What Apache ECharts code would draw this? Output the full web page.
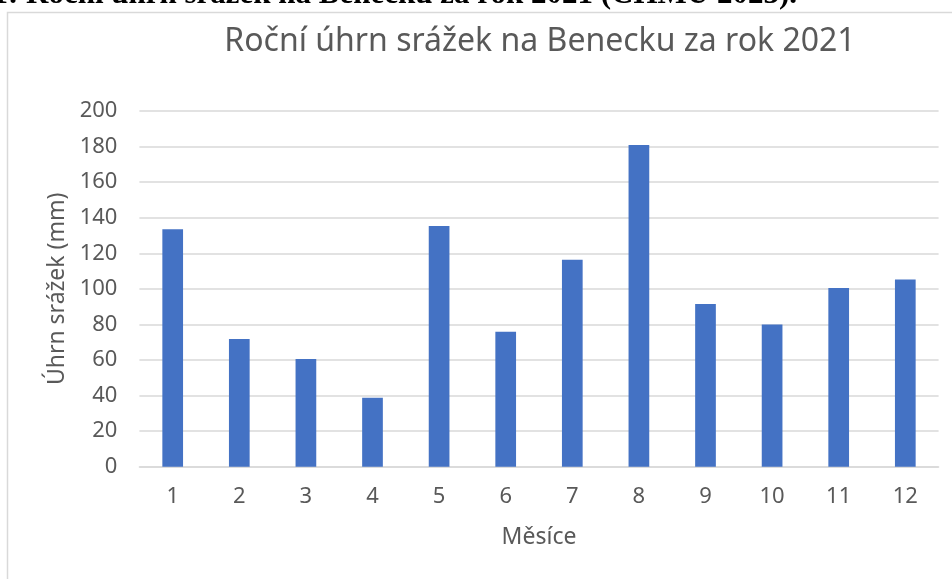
<!DOCTYPE html>
<html>
<head>
<meta charset="utf-8">
<title>Roční úhrn srážek na Benecku za rok 2021</title>
<script src="https://cdn.jsdelivr.net/npm/echarts@6/dist/echarts.min.js"></script>
<style>
    html, body { margin: 0; padding: 0; background: #ffffff; }
    #chart { width: 952px; height: 579px; }
</style>
</head>
<body>
<div id="chart"></div>
<script>
// měsíce a úhrn srážek (mm)
var mesice = ['1', '2', '3', '4', '5', '6', '7', '8', '9', '10', '11', '12'];
var srazky = [133.5, 71.8, 60.6, 38.8, 135.4, 75.9, 116.3, 180.9, 91.5, 79.9, 100.5, 105.2];
var osaY = { min: 0, max: 200, interval: 20 };

var myChart = echarts.init(document.getElementById('chart'));
var option = {
    animation: false,
    backgroundColor: '#ffffff',
    textStyle: { fontFamily: 'Noto Sans' },
    graphic: [
        { // rámeček grafu
            type: 'rect',
            shape: { x: 7.5, y: 12.5, width: 1000, height: 700 },
            style: { fill: 'none', stroke: '#d9d9d9', lineWidth: 1.5 },
            z: -1
        },
        { // oříznutý popisek nad grafem
            type: 'text',
            right: 952 - 797,
            top: -21,
            style: {
                text: 'Graf 1: Roční úhrn srážek na Benecku za rok 2021 (ČHMÚ 2023).',
                font: 'bold 31px "Liberation Serif"',
                fill: '#000000'
            }
        }
    ],
    title: {
        text: 'Roční úhrn srážek na Benecku za rok 2021',
        left: 535,
        top: 21,
        textAlign: 'center',
        textStyle: {
            color: '#595959',
            fontSize: 32,
            fontWeight: 'normal',
            fontFamily: 'Noto Sans'
        }
    },
    grid: {
        left: 139.4,
        right: 13.4,
        top: 111,
        bottom: 112.3
    },
    xAxis: {
        type: 'category',
        data: mesice,
        name: 'Měsíce',
        nameLocation: 'middle',
        nameGap: 59,
        nameTextStyle: { color: '#595959', fontSize: 23 },
        axisLine: { lineStyle: { color: '#d9d9d9', width: 1.5 } },
        axisTick: { show: false },
        axisLabel: { color: '#595959', fontSize: 22, margin: 19 }
    },
    yAxis: {
        type: 'value',
        min: osaY.min,
        max: osaY.max,
        interval: osaY.interval,
        name: 'Úhrn srážek (mm)',
        nameLocation: 'middle',
        nameGap: 70,
        nameTextStyle: { color: '#595959', fontSize: 23 },
        axisLine: { show: false },
        axisTick: { show: false },
        axisLabel: { color: '#595959', fontSize: 22, margin: 22 },
        splitLine: { lineStyle: { color: '#d9d9d9', width: 1.5 } }
    },
    series: [{
        type: 'bar',
        data: srazky,
        barWidth: 20.7,
        itemStyle: { color: '#4472c4' }
    }]
};
myChart.setOption(option);
</script>
</body>
</html>
